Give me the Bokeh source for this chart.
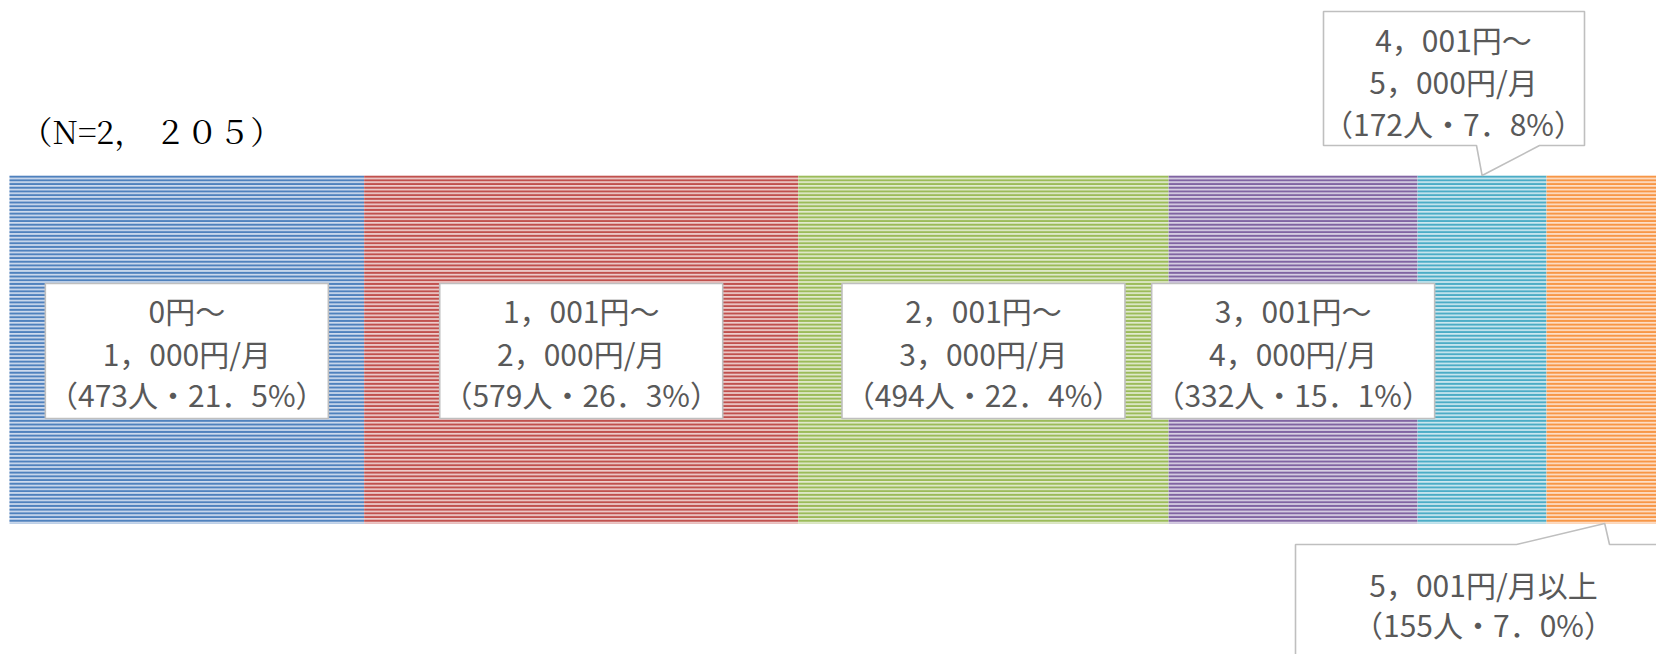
from bokeh.plotting import figure
from bokeh.models import Range1d
from bokeh.core.properties import value
from bokeh.embed import file_html
from bokeh.resources import INLINE

# ---- data ----
range_from = ["0円～", "1，001円～", "2，001円～", "3，001円～", "4，001円～", "5，001円/月以上"]
range_to = ["1，000円/月", "2，000円/月", "3，000円/月", "4，000円/月", "5，000円/月", ""]
counts = [473, 579, 494, 332, 172, 155]
percents = [21.5, 26.3, 22.4, 15.1, 7.8, 7.0]
colors = ["#4F81BD", "#C0504D", "#9BBB59", "#8064A2", "#4BACC6", "#F79646"]
tints = ["#D0DCEE", "#EECFCE", "#E2EBCF", "#DAD2E5", "#CEE8F0", "#FDDFC9"]
n_label = "（N=2， ２０５）"

W, H = 1656, 654
k = 0.7498                      # pixels per person
xs = -9.0 / k
xe = xs + W / k


def X(px):
    return xs + px / k


p = figure(width=W, height=H, x_range=Range1d(xs, xe), y_range=Range1d(H, 0),
           output_backend="svg", toolbar_location=None, min_border=0)
p.axis.visible = False
p.grid.visible = False
p.outline_line_color = None
p.background_fill_color = "white"
p.border_fill_color = "white"

lefts, rights = [], []
acc = 0
for c in counts:
    lefts.append(acc)
    acc += c
    rights.append(acc)
mids = [(l + r) / 2 for l, r in zip(lefts, rights)]

bar_top, bar_bot = 175, 523
p.quad(left=lefts, right=rights, top=[bar_top] * 6, bottom=[bar_bot] * 6,
       fill_color=tints, line_color=None,
       hatch_pattern="horizontal_line", hatch_color=colors,
       hatch_scale=3.7, hatch_weight=2.3)

txt_color = "#595959"
box_line = "#BFBFBF"
font = value("Noto Sans CJK JP")
fs = "30px"


def pct_label(n, pc):
    return "（%d人・%s%%）" % (n, ("%.1f" % pc).replace(".", "．"))


# inner boxes for first four segments
box_w = 283 / k
box_cy = 350.5
box_h = 135
for i in range(4):
    p.quad(left=[mids[i] - box_w / 2], right=[mids[i] + box_w / 2],
           top=[box_cy - box_h / 2], bottom=[box_cy + box_h / 2],
           fill_color="white", line_color=box_line, line_width=1.6)
    lines = [range_from[i], range_to[i], pct_label(counts[i], percents[i])]
    for j, off in enumerate([-41, 1.5, 43]):
        p.text(x=[mids[i]], y=[box_cy + off], text=[lines[j]],
               text_align="center", text_baseline="middle",
               text_font=font, text_font_size=fs, text_color=txt_color)

# top callout (segment 5)
tip5 = mids[4]
cx = [X(1323), X(1584), X(1584), X(1539), tip5, X(1476), X(1323)]
cy = [11, 11, 145, 145, bar_top, 145, 145]
p.patch(cx, cy, fill_color="white", line_color=box_line, line_width=1.6)
lines = [range_from[4], range_to[4], pct_label(counts[4], percents[4])]
for j, yy in enumerate([38, 80, 122]):
    p.text(x=[X(1453)], y=[yy], text=[lines[j]], text_align="center",
           text_baseline="middle", text_font=font, text_font_size=fs,
           text_color=txt_color)

# bottom callout (segment 6)
tip6 = mids[5]
bx = [X(1295), X(1295), X(1516), tip6, X(1609), X(1720), X(1720)]
by = [720, 544, 544, bar_bot, 544, 544, 720]
p.patch(bx, by, fill_color="white", line_color=box_line, line_width=1.6)
lines = [range_from[5], pct_label(counts[5], percents[5])]
for j, yy in enumerate([583, 623]):
    p.text(x=[X(1483)], y=[yy], text=[lines[j]], text_align="center",
           text_baseline="middle", text_font=font, text_font_size=fs,
           text_color=txt_color)

# N label
p.text(x=[X(20)], y=[129], text=[n_label], text_align="left",
       text_baseline="middle",
       text_font=value("'Noto Serif CJK JP', 'Liberation Serif', serif"),
       text_font_size="32px", text_color="#000000")

open("out.html", "w").write(file_html(p, INLINE))
